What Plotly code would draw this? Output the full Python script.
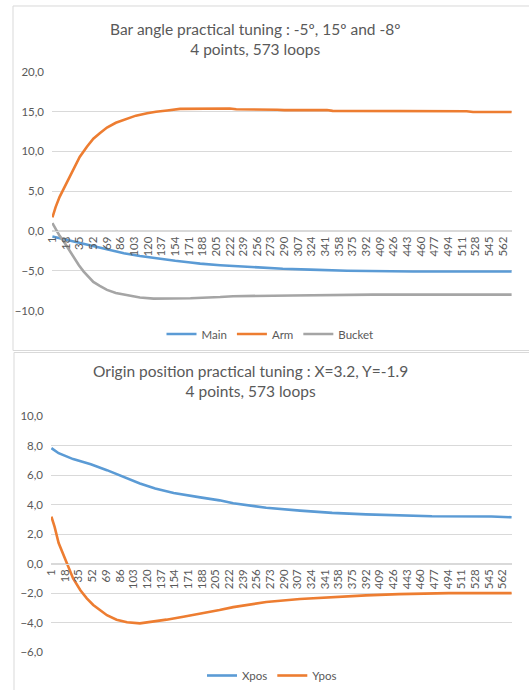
import plotly.graph_objects as go

# ---------------- data ----------------
x_ticks = [1, 18, 35, 52, 69, 86, 103, 120, 137, 154, 171, 188, 205, 222, 239, 256, 273,
           290, 307, 324, 341, 358, 375, 392, 409, 426, 443, 460, 477, 494, 511, 528, 545, 562]

main_x = [1, 18, 35, 61, 90, 110, 123, 154, 173, 185, 210, 259, 288, 322, 368, 450, 573]
main_y = [-0.7, -1.1, -1.5, -2.2, -2.8, -3.15, -3.35, -3.75, -3.95, -4.1, -4.3, -4.6, -4.75,
          -4.85, -5.0, -5.1, -5.1]

arm_x = [1, 5, 10, 15, 20, 27, 35, 44, 52, 60, 69, 80, 94, 105, 119, 130, 144, 160, 222,
         230, 281, 290, 343, 350, 517, 525, 573]
arm_y = [1.7, 3.0, 4.3, 5.3, 6.4, 7.9, 9.3, 10.6, 11.6, 12.3, 13.0, 13.6, 14.1, 14.5, 14.8,
         15.0, 15.15, 15.35, 15.4, 15.3, 15.25, 15.2, 15.2, 15.1, 15.05, 14.95, 14.95]

bucket_x = [1, 5, 10, 15, 21, 28, 34, 40, 46, 52, 60, 69, 80, 94, 110, 127, 173, 210, 226,
            300, 400, 573]
bucket_y = [1.0, 0.2, -0.6, -1.3, -2.3, -3.4, -4.3, -5.1, -5.8, -6.4, -6.9, -7.4, -7.8,
            -8.1, -8.35, -8.5, -8.45, -8.3, -8.2, -8.1, -8.0, -8.0]

xpos_x = [1, 10, 28, 50, 70, 90, 111, 130, 153, 186, 210, 227, 268, 310, 350, 392, 433,
          474, 548, 573]
xpos_y = [7.85, 7.5, 7.1, 6.75, 6.35, 5.9, 5.45, 5.1, 4.8, 4.5, 4.3, 4.1, 3.8, 3.6, 3.45,
          3.35, 3.28, 3.22, 3.2, 3.15]

ypos_x = [1, 5, 10, 15, 20, 28, 37, 45, 53, 62, 70, 82, 95, 111, 125, 144, 165, 186, 210,
          227, 268, 310, 350, 392, 433, 495, 573]
ypos_y = [3.2, 2.5, 1.4, 0.7, 0.05, -1.0, -1.8, -2.35, -2.8, -3.2, -3.5, -3.8, -3.98, -4.05,
          -3.95, -3.8, -3.6, -3.4, -3.15, -2.95, -2.6, -2.4, -2.26, -2.15, -2.07, -2.0, -2.0]

title1 = "Bar angle practical tuning : -5º, 15º and -8º<br>4 points, 573 loops"
title2 = "Origin position practical tuning : X=3.2, Y=-1.9<br>4 points, 573 loops"

# ---------------- styling ----------------
W, H = 529, 690
FONT = "Lato"
GRAY_TXT = "#595959"
GRID = "#d9d9d9"
BLUE, ORANGE, GREY = "#5B9BD5", "#ED7D31", "#A5A5A5"


def px_x(p):
    return p / W


def px_y(p):
    return 1 - p / H


fig = go.Figure()

lw = 2.6
fig.add_trace(go.Scatter(x=main_x, y=main_y, mode="lines", name="Main",
                         line=dict(color=BLUE, width=lw), xaxis="x", yaxis="y", legend="legend"))
fig.add_trace(go.Scatter(x=arm_x, y=arm_y, mode="lines", name="Arm",
                         line=dict(color=ORANGE, width=lw), xaxis="x", yaxis="y", legend="legend"))
fig.add_trace(go.Scatter(x=bucket_x, y=bucket_y, mode="lines", name="Bucket",
                         line=dict(color=GREY, width=lw), xaxis="x", yaxis="y", legend="legend"))
fig.add_trace(go.Scatter(x=xpos_x, y=xpos_y, mode="lines", name="Xpos",
                         line=dict(color=BLUE, width=lw), xaxis="x2", yaxis="y2", legend="legend2"))
fig.add_trace(go.Scatter(x=ypos_x, y=ypos_y, mode="lines", name="Ypos",
                         line=dict(color=ORANGE, width=lw), xaxis="x2", yaxis="y2", legend="legend2"))

xdom_top = [px_x(52), px_x(512)]
xdom_bot = [px_x(51), px_x(512)]
ydom_top = [px_y(311), px_y(72)]
ydom_bot = [px_y(653), px_y(417)]

top_range = [-10, 20]
bot_range = [-6, 10]
pos_top = ydom_top[0] + (0 - top_range[0]) / (top_range[1] - top_range[0]) * (ydom_top[1] - ydom_top[0])
pos_bot = ydom_bot[0] + (0 - bot_range[0]) / (bot_range[1] - bot_range[0]) * (ydom_bot[1] - ydom_bot[0])

xaxis_common = dict(range=[0.5, 573.5], tickmode="array", tickvals=x_ticks,
                    ticktext=[str(v) for v in x_ticks], tickangle=-90,
                    showgrid=False, zeroline=False, showline=True, linecolor=GRID, linewidth=1,
                    ticks="", tickfont=dict(family=FONT, size=11.5, color=GRAY_TXT),
                    anchor="free", automargin=False)
yaxis_common = dict(showgrid=True, gridcolor=GRID, gridwidth=1, zeroline=False,
                    showline=False, ticks="", tickformat=".1f", automargin=False,
                    ticklabelstandoff=7,
                    tickfont=dict(family=FONT, size=11.5, color=GRAY_TXT))

fig.update_layout(
    width=W, height=H,
    margin=dict(l=0, r=0, t=0, b=0, pad=0),
    paper_bgcolor="white", plot_bgcolor="white",
    separators=", ",
    font=dict(family=FONT, color=GRAY_TXT),
    xaxis=dict(domain=xdom_top, position=pos_top, **xaxis_common),
    yaxis=dict(domain=ydom_top, range=top_range, dtick=5, anchor="x", **yaxis_common),
    xaxis2=dict(domain=xdom_bot, position=pos_bot, **xaxis_common),
    yaxis2=dict(domain=ydom_bot, range=bot_range, dtick=2, anchor="x2", **yaxis_common),
    legend=dict(orientation="h", x=px_x(270), xanchor="center", y=px_y(334), yanchor="middle",
                font=dict(family=FONT, size=11.5, color=GRAY_TXT), itemwidth=30,
                bgcolor="rgba(0,0,0,0)"),
    legend2=dict(orientation="h", x=px_x(272), xanchor="center", y=px_y(676), yanchor="middle",
                 font=dict(family=FONT, size=11.5, color=GRAY_TXT), itemwidth=30,
                 bgcolor="rgba(0,0,0,0)"),
    showlegend=True,
)

fig.add_annotation(text=title1, x=px_x(255), y=px_y(39), xref="paper", yref="paper",
                   showarrow=False, xanchor="center", yanchor="middle",
                   font=dict(family=FONT, size=15.5, color=GRAY_TXT))
fig.add_annotation(text=title2, x=px_x(250), y=px_y(382), xref="paper", yref="paper",
                   showarrow=False, xanchor="center", yanchor="middle",
                   font=dict(family=FONT, size=15.5, color=GRAY_TXT))

# chart-area borders (decoration)
fig.add_shape(type="rect", xref="paper", yref="paper", x0=px_x(13), x1=1.05,
              y0=px_y(351), y1=px_y(6), line=dict(color=GRID, width=1), fillcolor="rgba(0,0,0,0)",
              layer="below")
fig.add_shape(type="rect", xref="paper", yref="paper", x0=px_x(14), x1=1.05,
              y0=-0.05, y1=px_y(353), line=dict(color=GRID, width=1), fillcolor="rgba(0,0,0,0)",
              layer="below")

fig.write_html("out.html", config={"displayModeBar": False},
               post_script="document.body.style.margin='0';")
